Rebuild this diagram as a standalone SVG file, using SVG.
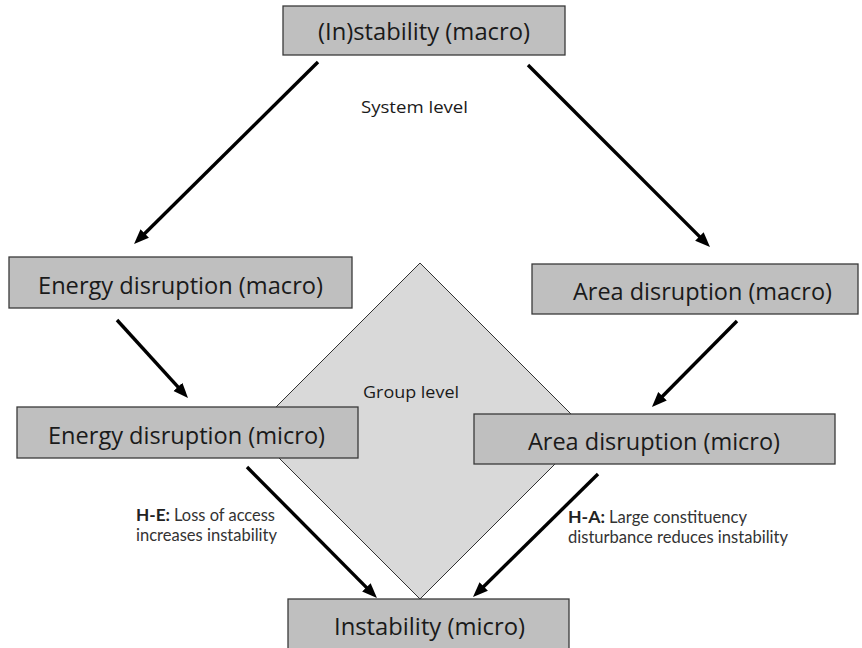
<svg xmlns="http://www.w3.org/2000/svg" width="862" height="648" viewBox="0 0 862 648">
<style>
.box{fill:#bfbfbf;stroke:#3a3a3a;stroke-width:1.3}
.lbl{font-family:"Open Sans","Noto Sans","DejaVu Sans",sans-serif;font-size:24px;fill:#1a1a1a;text-anchor:middle}
.lvl{font-family:"Open Sans","Noto Sans","DejaVu Sans",sans-serif;font-size:16px;fill:#1a1a1a;text-anchor:middle}
.hyp{font-family:Lato,"Liberation Sans",sans-serif;font-size:17px;fill:#333}
.b{font-weight:bold;fill:#222}
.arr{stroke:#000;stroke-width:3.4;fill:none;marker-end:url(#ah)}
</style>
<defs>
<marker id="ah" markerUnits="userSpaceOnUse" markerWidth="16" markerHeight="14" refX="1" refY="7" orient="auto" viewBox="0 0 16 14">
<path d="M0,1 L15,7 L0,13 z" fill="#000"/>
</marker>
</defs>
<rect width="862" height="648" fill="#fff"/>
<g id="group-level">
<polygon points="420,263 588,431 420,599 252,431" fill="#d9d9d9" stroke="#333" stroke-width="1"/>
<text class="lvl" x="411" y="398" textLength="96" lengthAdjust="spacingAndGlyphs">Group level</text>
</g>
<g id="system-level">
<text class="lvl" x="414.5" y="113" textLength="107" lengthAdjust="spacingAndGlyphs">System level</text>
</g>
<g id="instability-macro">
<rect class="box" x="283" y="6" width="282" height="49"/>
<text class="lbl" x="424" y="40" textLength="212" lengthAdjust="spacingAndGlyphs">(In)stability (macro)</text>
</g>
<g id="energy-macro">
<rect class="box" x="9" y="257" width="343" height="51"/>
<text class="lbl" x="180.5" y="294" textLength="285" lengthAdjust="spacingAndGlyphs">Energy disruption (macro)</text>
</g>
<g id="energy-micro">
<rect class="box" x="17" y="407" width="341" height="51"/>
<text class="lbl" x="186.5" y="444" textLength="277" lengthAdjust="spacingAndGlyphs">Energy disruption (micro)</text>
</g>
<g id="area-macro">
<rect class="box" x="532" y="264" width="326" height="50"/>
<text class="lbl" x="702.5" y="300" textLength="259" lengthAdjust="spacingAndGlyphs">Area disruption (macro)</text>
</g>
<g id="area-micro">
<rect class="box" x="474" y="414" width="361" height="50"/>
<text class="lbl" x="654" y="450" textLength="252" lengthAdjust="spacingAndGlyphs">Area disruption (micro)</text>
</g>
<g id="instability-micro">
<rect class="box" x="288" y="599" width="281" height="53"/>
<text class="lbl" x="429.5" y="635" textLength="191" lengthAdjust="spacingAndGlyphs">Instability (micro)</text>
</g>
<g id="connectors">
<line class="arr" x1="318" y1="62" x2="144" y2="234.2"/>
<line class="arr" x1="528" y1="65" x2="700.1" y2="237.1"/>
<line class="arr" x1="117" y1="320" x2="178.6" y2="387.6"/>
<line class="arr" x1="737" y1="321" x2="661.8" y2="397"/>
<line class="arr" x1="247" y1="467" x2="367.1" y2="588.1"/>
<line class="arr" x1="598" y1="474" x2="483" y2="587.2"/>
</g>
<g id="label-he">
<text class="hyp b" x="136" y="521" textLength="34" lengthAdjust="spacingAndGlyphs">H-E:</text>
<text class="hyp" x="174" y="521" textLength="101" lengthAdjust="spacingAndGlyphs">Loss of access</text>
<text class="hyp" x="136" y="541" textLength="141" lengthAdjust="spacingAndGlyphs">increases instability</text>
</g>
<g id="label-ha">
<text class="hyp b" x="568" y="523" textLength="37" lengthAdjust="spacingAndGlyphs">H-A:</text>
<text class="hyp" x="609" y="523" textLength="138" lengthAdjust="spacingAndGlyphs">Large constituency</text>
<text class="hyp" x="568" y="543" textLength="220" lengthAdjust="spacingAndGlyphs">disturbance reduces instability</text>
</g>
</svg>
